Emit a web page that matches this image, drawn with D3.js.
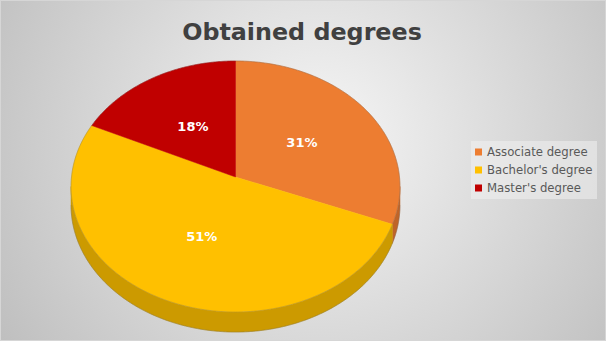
<!DOCTYPE html>
<html><head><meta charset="utf-8">
<script src="https://cdn.jsdelivr.net/npm/d3@7"></script>
<style>html,body{margin:0;padding:0;background:#fff;}svg{display:block;}</style>
</head><body>
<svg id="chart" width="606" height="341"></svg>
<script>
const categories = ["Associate degree", "Bachelor's degree", "Master's degree"];
const values = [31, 51, 18];
const topColors = ["#ED7D31", "#FFC000", "#C00000"];
const sideColors = ["#BF6428", "#CC9A00", "#990000"];
const title = "Obtained degrees";

const W = 606, H = 341;
const svg = d3.select("#chart");
const defs = svg.append("defs");
const bg = defs.append("radialGradient").attr("id","bg").attr("gradientUnits","userSpaceOnUse")
  .attr("cx",320).attr("cy",140).attr("r",390);
bg.append("stop").attr("offset",0).attr("stop-color","#f6f6f6");
bg.append("stop").attr("offset",1).attr("stop-color","#bdbdbd");
svg.append("rect").attr("width",W).attr("height",H).attr("fill","url(#bg)");
svg.append("rect").attr("x",0.5).attr("y",0.5).attr("width",W-1).attr("height",H-1)
  .attr("fill","none").attr("stroke","#d6d6d6");

svg.append("text").attr("x",302).attr("y",40).attr("text-anchor","middle")
  .attr("font-family","DejaVu Sans").attr("font-weight","bold").attr("font-size",23.8)
  .attr("fill","#404040").text(title);

// perspective projection of the pie
const cx = 235.5, cy = 177, a = 164, b = 124.8, k = 0.0757, depth = 18.5;
function proj(theta, r, h) {
  const u = r*Math.sin(theta), v = -r*Math.cos(theta);
  const den = 1 - k*v;
  return [cx + a*u/den, cy + b*v/den + h*depth/den];
}
const pie = d3.pie().sort(null).value(d => d)(values);
const line = d3.line();
function rim(a0, a1, h) {
  const n = Math.max(2, Math.ceil((a1-a0)/0.01));
  return d3.range(n+1).map(i => proj(a0 + (a1-a0)*i/n, 1, h));
}
const ts = Math.acos(-k), te = 2*Math.PI - ts;
const g = svg.append("g");
// sides
pie.forEach((p,i) => {
  const s = Math.max(p.startAngle, ts), e = Math.min(p.endAngle, te);
  if (e > s) {
    const pts = rim(s,e,0).concat(rim(s,e,1).reverse());
    g.append("path").attr("d", line(pts)+"Z").attr("fill", sideColors[i])
      .attr("stroke", sideColors[i]).attr("stroke-width",0.5);
  }
});
// outline of side bottom
g.append("path").attr("d", line(rim(ts,te,1))).attr("fill","none")
  .attr("stroke","rgba(90,90,90,0.35)").attr("stroke-width",0.8);
// top faces
pie.forEach((p,i) => {
  const pts = [[cx,cy]].concat(rim(p.startAngle, p.endAngle, 0));
  g.append("path").attr("d", line(pts)+"Z").attr("fill", topColors[i])
    .attr("stroke", topColors[i]).attr("stroke-width",0.5);
});
g.append("path").attr("d", line(rim(0, 2*Math.PI, 0))+"Z").attr("fill","none")
  .attr("stroke","rgba(90,90,90,0.35)").attr("stroke-width",0.8);
// labels
pie.forEach((p,i) => {
  const m = (p.startAngle + p.endAngle)/2;
  const [x,y] = proj(m, 0.5, 0);
  g.append("text").attr("x",x).attr("y",y).attr("dy","0.36em").attr("text-anchor","middle")
    .attr("font-family","DejaVu Sans").attr("font-weight","bold").attr("font-size",13)
    .attr("fill","#ffffff").text(values[i] + "%");
});

// legend
const lg = svg.append("g");
lg.append("rect").attr("x",471).attr("y",141).attr("width",126).attr("height",58)
  .attr("fill","#f0f0f0").attr("opacity",0.55);
categories.forEach((c,i) => {
  const y = 152 + i*18;
  lg.append("rect").attr("x",475).attr("y",y-3.5).attr("width",7).attr("height",7).attr("fill",topColors[i]);
  lg.append("text").attr("x",487).attr("y",y).attr("dy","0.35em")
    .attr("font-family","DejaVu Sans").attr("font-size",11.7).attr("fill","#595959").text(c);
});
</script>
</body></html>
